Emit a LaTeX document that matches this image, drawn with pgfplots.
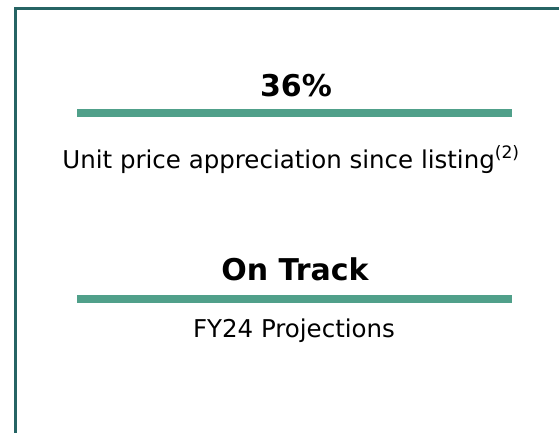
\documentclass[border=0pt]{standalone}
\usepackage{pgfplots}
\pgfplotsset{compat=1.18}
\usepackage{fontspec}
\setmainfont{DejaVu Sans}
\definecolor{framecol}{RGB}{38,100,100}
\definecolor{barcol}{RGB}{80,160,138}
\begin{document}
\begin{tikzpicture}
\useasboundingbox (0,0) rectangle (559pt,433pt);
\begin{axis}[at={(0,0)},anchor=south west,
  width=559pt,height=433pt,scale only axis,
  xmin=0,xmax=559,ymin=0,ymax=433,y dir=reverse,
  hide axis, clip=false]
\addplot[framecol, line width=2.8pt, mark=none] coordinates {(15.6,445) (15.6,8.6) (575,8.6)};
\addplot[barcol, line width=7.5pt, mark=none] coordinates {(77,113) (512,113)};
\addplot[barcol, line width=7.5pt, mark=none] coordinates {(77,299) (512,299)};
\node[anchor=base, inner sep=0pt] at (axis cs:296,97) {\fontsize{30}{36}\selectfont\bfseries 36\%};
\node[anchor=base, inner sep=0pt] at (axis cs:291,168) {\fontsize{24.5}{28}\selectfont Unit price appreciation since listing\textsuperscript{(2)}};
\node[anchor=base, inner sep=0pt] at (axis cs:295,280) {\fontsize{30}{36}\selectfont\bfseries On Track};
\node[anchor=base, inner sep=0pt] at (axis cs:294,337) {\fontsize{24.5}{28}\selectfont FY24 Projections};
\end{axis}
\end{tikzpicture}
\end{document}
